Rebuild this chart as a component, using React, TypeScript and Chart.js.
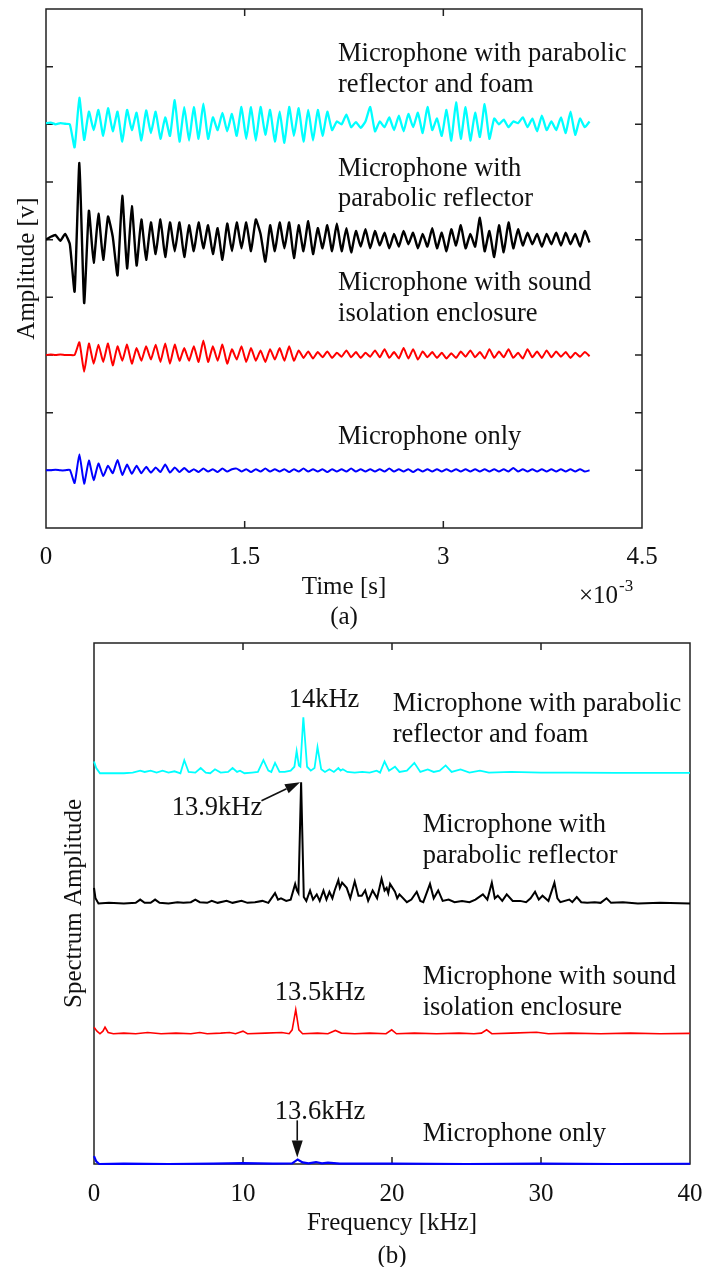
import { useEffect, useRef } from "react";
import { Chart, registerables } from "chart.js";

Chart.register(...registerables);

const FONT = "'Liberation Serif', 'Times New Roman', Times, serif";
const AXIS_COLOR = "#222222";
const TEXT_COLOR = "#111111";

// ---------- (a) time signals: sampled every TIME_STEP_MS, values in axis units ----------
const TIME_STEP_MS = 0.036;
const TIME_TICKS_MS = { min: 0, max: 4.5, step: 1.5 };

const WAVE_FOAM = [
  0.02, 0.03, 0.0, 0.02, 0.01, 0.0, -0.4, 0.46, -0.27, 0.22,
  -0.1, 0.25, -0.2, 0.28, -0.12, 0.22, -0.3, 0.25, -0.1, 0.2,
  -0.28, 0.24, -0.15, 0.22, -0.25, 0.12, -0.2, 0.42, -0.3, 0.3,
  -0.28, 0.3, -0.25, 0.36, -0.25, 0.12, -0.1, 0.2, -0.12, 0.18,
  -0.2, 0.3, -0.25, 0.3, -0.28, 0.3, -0.18, 0.25, -0.3, 0.22,
  -0.32, 0.3, -0.2, 0.28, -0.3, 0.25, -0.28, 0.25, -0.2, 0.22,
  -0.1, 0.05, 0.0, 0.17, -0.05, 0.04, -0.06, 0.05, 0.3, -0.12,
  0.05, -0.05, 0.12, -0.1, 0.15, -0.12, 0.18, -0.05, 0.2, -0.15,
  0.3, -0.1, 0.1, -0.2, 0.25, -0.28, 0.38, -0.25, 0.3, -0.28,
  0.2, -0.22, 0.35, -0.25, 0.1, 0.0, 0.08, -0.05, 0.05, 0.02,
  0.12, -0.05, 0.1, -0.12, 0.15, -0.1, 0.05, -0.1, 0.12, -0.15,
  0.22, -0.18, 0.1, -0.05, 0.05,
];

const WAVE_REFLECTOR = [
  0.0, 0.05, 0.08, -0.02, 0.1, -0.08, -0.9, 1.33, -1.1, 0.5,
  -0.4, 0.45, -0.35, 0.4, 0.05, -0.62, 0.76, -0.5, 0.58, -0.45,
  0.35, -0.35, 0.3, -0.25, 0.35, -0.3, 0.3, -0.2, 0.3, -0.3,
  0.25, -0.2, 0.3, -0.15, 0.25, -0.25, 0.2, -0.35, 0.28, -0.2,
  0.3, -0.15, 0.3, -0.2, 0.35, 0.1, -0.38, 0.25, -0.2, 0.3,
  -0.15, 0.3, -0.32, 0.25, -0.2, 0.32, -0.25, 0.2, -0.15, 0.25,
  -0.2, 0.28, -0.2, 0.2, -0.22, 0.15, -0.12, 0.18, -0.15, 0.15,
  -0.1, 0.12, -0.15, 0.1, -0.12, 0.15, -0.08, 0.12, -0.15, 0.1,
  -0.12, 0.2, -0.15, 0.12, -0.2, 0.18, -0.1, 0.25, -0.15, 0.1,
  -0.12, 0.38, -0.2, 0.15, -0.3, 0.25, -0.22, 0.3, -0.15, 0.18,
  -0.1, 0.12, -0.08, 0.1, -0.12, 0.1, -0.08, 0.12, -0.1, 0.12,
  -0.08, 0.1, -0.12, 0.15, -0.05,
];

const WAVE_ENCLOSURE = [
  0.0, 0.01, 0.0, 0.01, 0.0, 0.0, 0.0, 0.22, -0.29, 0.2,
  -0.15, 0.18, -0.12, 0.2, -0.18, 0.15, -0.1, 0.18, -0.15, 0.12,
  -0.1, 0.15, -0.08, 0.18, -0.12, 0.2, -0.15, 0.18, -0.1, 0.12,
  -0.1, 0.15, -0.12, 0.25, -0.12, 0.15, -0.1, 0.18, -0.15, 0.1,
  -0.08, 0.15, -0.12, 0.12, -0.1, 0.08, -0.12, 0.1, -0.08, 0.12,
  -0.1, 0.15, -0.1, 0.08, -0.05, 0.06, -0.06, 0.05, -0.04, 0.06,
  -0.05, 0.04, -0.03, 0.08, -0.04, 0.05, -0.05, 0.04, -0.03, 0.08,
  -0.04, 0.1, -0.05, 0.05, -0.06, 0.12, -0.06, 0.1, -0.08, 0.06,
  -0.04, 0.05, -0.05, 0.04, -0.06, 0.03, -0.05, 0.06, -0.03, 0.08,
  -0.04, 0.05, -0.06, 0.1, -0.05, 0.06, -0.04, 0.1, -0.05, 0.04,
  -0.06, 0.1, -0.04, 0.06, -0.05, 0.08, -0.04, 0.06, -0.03, 0.05,
  -0.05, 0.04, -0.03, 0.05, -0.02,
];

const WAVE_MIC_ONLY = [
  0.0, 0.0, 0.01, 0.0, 0.0, 0.01, -0.22, 0.28, -0.23, 0.17,
  -0.17, 0.12, -0.1, 0.08, -0.05, 0.18, -0.08, 0.1, -0.06, 0.08,
  -0.05, 0.06, -0.04, 0.05, -0.03, 0.1, -0.04, 0.05, -0.03, 0.04,
  -0.03, 0.02, -0.03, 0.03, -0.02, 0.02, -0.03, 0.03, -0.02, 0.02,
  0.03, -0.02, 0.02, -0.03, 0.02, -0.02, 0.03, -0.02, 0.02, -0.02,
  0.02, -0.03, 0.02, -0.02, 0.03, -0.02, 0.02, -0.02, 0.02, -0.03,
  0.02, -0.02, 0.02, -0.02, 0.03, -0.02, 0.02, -0.02, 0.02, -0.02,
  0.02, -0.02, 0.03, -0.02, 0.02, -0.02, 0.02, -0.03, 0.02, -0.02,
  0.02, -0.02, 0.02, -0.02, 0.02, -0.02, 0.02, -0.02, 0.02, -0.02,
  0.02, -0.02, 0.02, -0.02, 0.02, -0.02, 0.02, -0.02, 0.04, -0.02,
  0.02, -0.02, 0.02, -0.02, 0.02, -0.02, 0.02, -0.02, 0.02, -0.02,
  0.02, -0.02, 0.02, -0.02, 0.0,
];

// ---------- (b) spectra: [frequency kHz, amplitude] ----------
const FREQ_TICKS_KHZ = { min: 0, max: 40, step: 10 };

const SPEC_FOAM: [number, number][] = [
  [0, 0.09], [0.15, 0.04], [0.4, 0.0], [1.0, 0.0], [2.0, 0.0], [2.6, 0.005], [3.1, 0.02], [3.4, 0.01],
  [3.8, 0.02], [4.2, 0.005], [4.6, 0.02], [5.0, 0.005], [5.4, 0.015], [5.8, 0.0], [6.06, 0.1], [6.35, 0.01],
  [6.8, 0.005], [7.16, 0.04], [7.5, 0.005], [7.8, 0.0], [8.12, 0.03], [8.5, 0.005], [9.0, 0.01], [9.3, 0.04],
  [9.6, 0.01], [9.8, 0.02], [10.1, 0.0], [10.6, 0.005], [11.0, 0.01], [11.37, 0.1], [11.7, 0.02], [11.9, 0.01],
  [12.15, 0.08], [12.45, 0.01], [12.8, 0.01], [13.2, 0.02], [13.45, 0.05], [13.6, 0.17], [13.75, 0.06],
  [13.85, 0.05], [14.05, 0.43], [14.3, 0.05], [14.55, 0.02], [14.8, 0.04], [15.0, 0.2], [15.25, 0.03],
  [15.5, 0.01], [15.8, 0.03], [16.1, 0.01], [16.4, 0.04], [16.55, 0.02], [16.7, 0.03], [17.0, 0.01],
  [17.5, 0.005], [18.0, 0.01], [18.5, 0.005], [18.97, 0.02], [19.2, 0.005], [19.5, 0.09], [19.8, 0.02],
  [20.2, 0.05], [20.5, 0.01], [21.0, 0.02], [21.5, 0.08], [21.9, 0.01], [22.4, 0.03], [22.8, 0.01],
  [23.2, 0.02], [23.6, 0.06], [24.0, 0.01], [24.6, 0.03], [25.2, 0.005], [25.9, 0.02], [26.5, 0.005],
  [28, 0.01], [30, 0.005], [32, 0.005], [35, 0.003], [38, 0.003], [40, 0.003],
];

const SPEC_REFLECTOR: [number, number][] = [
  [0, 0.12], [0.1, 0.04], [0.3, 0.0], [1, 0.005], [2, 0.0], [2.8, 0.005], [3.1, 0.03], [3.4, 0.005],
  [3.8, 0.005], [4.1, 0.03], [4.4, 0.005], [5, 0.0], [5.6, 0.01], [6.0, 0.005], [6.5, 0.01], [6.8, 0.03],
  [7.1, 0.01], [7.6, 0.005], [7.9, 0.02], [8.3, 0.005], [8.9, 0.02], [9.3, 0.005], [9.9, 0.02], [10.3, 0.005],
  [10.8, 0.01], [11.3, 0.02], [11.7, 0.005], [12.15, 0.08], [12.35, 0.03], [12.55, 0.04], [12.9, 0.02],
  [13.2, 0.03], [13.5, 0.15], [13.62, 0.1], [13.72, 0.08], [13.9, 0.93], [14.08, 0.05], [14.25, 0.02],
  [14.5, 0.1], [14.7, 0.03], [14.95, 0.07], [15.15, 0.02], [15.4, 0.1], [15.6, 0.03], [15.8, 0.09],
  [16.0, 0.04], [16.15, 0.1], [16.4, 0.18], [16.5, 0.12], [16.65, 0.16], [16.96, 0.12], [17.2, 0.04],
  [17.5, 0.17], [17.75, 0.06], [17.97, 0.06], [18.2, 0.1], [18.4, 0.02], [18.7, 0.1], [19.0, 0.04],
  [19.3, 0.19], [19.5, 0.1], [19.64, 0.12], [19.75, 0.08], [19.87, 0.15], [20.2, 0.09], [20.35, 0.04],
  [20.5, 0.07], [21.0, 0.01], [21.3, 0.03], [21.66, 0.09], [21.9, 0.02], [22.1, 0.01], [22.55, 0.15],
  [22.8, 0.04], [23.1, 0.1], [23.4, 0.02], [23.8, 0.03], [24.2, 0.01], [24.7, 0.02], [25.2, 0.01],
  [25.6, 0.03], [26.1, 0.07], [26.4, 0.03], [26.7, 0.16], [26.9, 0.04], [27.1, 0.06], [27.4, 0.02],
  [27.7, 0.07], [28.1, 0.02], [28.6, 0.02], [29.0, 0.01], [29.3, 0.04], [29.6, 0.09], [29.85, 0.03],
  [30.1, 0.06], [30.5, 0.02], [30.9, 0.16], [31.1, 0.04], [31.3, 0.01], [31.9, 0.03], [32.1, 0.01],
  [32.4, 0.05], [32.7, 0.01], [33.1, 0.005], [33.6, 0.01], [34.0, 0.005], [34.4, 0.04], [34.7, 0.005],
  [35.5, 0.01], [36.5, 0.0], [38, 0.005], [40, 0.0],
];

const SPEC_ENCLOSURE: [number, number][] = [
  [0, 0.05], [0.2, 0.02], [0.4, 0.0], [0.6, 0.02], [0.74, 0.05], [0.95, 0.01], [1.3, 0.0], [2, 0.005],
  [2.8, 0.0], [3.6, 0.01], [4.5, 0.0], [5.5, 0.005], [6.5, 0.0], [7.1, 0.01], [7.6, 0.0], [8.5, 0.005],
  [9.1, 0.01], [9.5, 0.0], [10.0, 0.02], [10.3, 0.0], [11.5, 0.005], [12.6, 0.01], [13.1, 0.0], [13.3, 0.03],
  [13.54, 0.185], [13.75, 0.03], [14, 0.0], [15, 0.005], [15.7, 0.0], [16.2, 0.025], [16.6, 0.005],
  [17.5, 0.0], [18.5, 0.005], [19.6, 0.0], [19.98, 0.03], [20.3, 0.0], [21.5, 0.005], [23, 0.0],
  [24.5, 0.005], [25.5, 0.0], [26.0, 0.005], [26.35, 0.03], [26.7, 0.0], [28, 0.005], [29.7, 0.012],
  [30.5, 0.0], [32, 0.005], [34, 0.0], [36, 0.005], [38, 0.0], [40, 0.003],
];

const SPEC_MIC_ONLY: [number, number][] = [
  [0, 0.06], [0.15, 0.02], [0.35, 0.0], [2, 0.003], [5, 0.0], [8, 0.003], [10, 0.006], [12, 0.003],
  [13.3, 0.005], [13.67, 0.035], [14.0, 0.012], [14.4, 0.005], [14.9, 0.015], [15.3, 0.005], [15.7, 0.01],
  [16.5, 0.003], [20, 0.003], [25, 0.0], [30, 0.003], [35, 0.0], [40, 0.002],
];

// ---------- layout / style (not data) ----------
const WAVE_OFFSET = { foam: 7, reflector: 5, enclosure: 3, only: 1 };
const SPEC_OFFSET = { foam: 3, reflector: 2, enclosure: 1, only: 0 };
const COLORS = { foam: "#00FFFF", reflector: "#000000", enclosure: "#FF0000", only: "#0000FF" };
const TICK_LEN = 7;
const NOTE_FONT = 26.5;
const NOTE_LINE = 30.8;
const CANVAS_W = 696;

type Note = { x: number; y: number; lines: string[]; align: CanvasTextAlign };
type Arrow = { from: [number, number]; to: [number, number]; head: number; half: number };

const NOTES_A: Note[] = [
  { x: 2.205, y: 8.1, lines: ["Microphone with parabolic", "reflector and foam"], align: "left" },
  { x: 2.205, y: 6.11, lines: ["Microphone with", "parabolic reflector"], align: "left" },
  { x: 2.205, y: 4.12, lines: ["Microphone with sound", "isolation enclosure"], align: "left" },
  { x: 2.205, y: 1.455, lines: ["Microphone only"], align: "left" },
];

const NOTES_B: Note[] = [
  { x: 15.44, y: 3.51, lines: ["14kHz"], align: "center" },
  { x: 20.05, y: 3.475, lines: ["Microphone with parabolic", "reflector and foam"], align: "left" },
  { x: 5.21, y: 2.68, lines: ["13.9kHz"], align: "left" },
  { x: 22.06, y: 2.55, lines: ["Microphone with", "parabolic reflector"], align: "left" },
  { x: 15.17, y: 1.26, lines: ["13.5kHz"], align: "center" },
  { x: 22.06, y: 1.383, lines: ["Microphone with sound", "isolation enclosure"], align: "left" },
  { x: 15.17, y: 0.343, lines: ["13.6kHz"], align: "center" },
  { x: 22.06, y: 0.179, lines: ["Microphone only"], align: "left" },
];

const ARROWS_B: Arrow[] = [
  { from: [11.24, 2.789], to: [13.83, 2.93], head: 15, half: 5 },
  { from: [13.64, 0.335], to: [13.64, 0.05], head: 17, half: 5.5 },
];

function framePlugin(showYTicks: boolean) {
  return {
    id: "frame",
    beforeDatasetsDraw(chart: any) {
      const { ctx, chartArea: a, scales } = chart;
      ctx.save();
      ctx.strokeStyle = AXIS_COLOR;
      ctx.lineWidth = 1.5;
      ctx.strokeRect(a.left, a.top, a.right - a.left, a.bottom - a.top);
      ctx.beginPath();
      const xs = scales.x;
      for (const t of xs.ticks) {
        if (t.value <= xs.min || t.value >= xs.max) continue;
        const px = xs.getPixelForValue(t.value);
        ctx.moveTo(px, a.bottom);
        ctx.lineTo(px, a.bottom - TICK_LEN);
        ctx.moveTo(px, a.top);
        ctx.lineTo(px, a.top + TICK_LEN);
      }
      if (showYTicks) {
        const ys = scales.y;
        for (const t of ys.ticks) {
          if (t.value <= ys.min || t.value >= ys.max) continue;
          const py = ys.getPixelForValue(t.value);
          ctx.moveTo(a.left, py);
          ctx.lineTo(a.left + TICK_LEN, py);
          ctx.moveTo(a.right, py);
          ctx.lineTo(a.right - TICK_LEN, py);
        }
      }
      ctx.stroke();
      ctx.restore();
    },
  };
}

type Titles = { x: string; xDy: number; y: string; yX: number; caption: string; captionDy: number; exponent: boolean };

function notesPlugin(notes: Note[], arrows: Arrow[], t: Titles) {
  return {
    id: "notes",
    afterDraw(chart: any) {
      const { ctx, chartArea: a, scales } = chart;
      const xs = scales.x;
      const ys = scales.y;
      ctx.save();
      ctx.fillStyle = TEXT_COLOR;
      ctx.strokeStyle = TEXT_COLOR;
      ctx.font = `${NOTE_FONT}px ${FONT}`;
      ctx.textBaseline = "alphabetic";
      for (const n of notes) {
        ctx.textAlign = n.align;
        const px = xs.getPixelForValue(n.x);
        const py = ys.getPixelForValue(n.y);
        n.lines.forEach((line, i) => ctx.fillText(line, px, py + i * NOTE_LINE));
      }
      for (const ar of arrows) {
        const x0 = xs.getPixelForValue(ar.from[0]);
        const y0 = ys.getPixelForValue(ar.from[1]);
        const x1 = xs.getPixelForValue(ar.to[0]);
        const y1 = ys.getPixelForValue(ar.to[1]);
        const ang = Math.atan2(y1 - y0, x1 - x0);
        const bx = x1 - ar.head * Math.cos(ang);
        const by = y1 - ar.head * Math.sin(ang);
        ctx.lineWidth = 1.6;
        ctx.beginPath();
        ctx.moveTo(x0, y0);
        ctx.lineTo(bx, by);
        ctx.stroke();
        ctx.beginPath();
        ctx.moveTo(x1, y1);
        ctx.lineTo(bx + ar.half * Math.sin(ang), by - ar.half * Math.cos(ang));
        ctx.lineTo(bx - ar.half * Math.sin(ang), by + ar.half * Math.cos(ang));
        ctx.closePath();
        ctx.fill();
      }
      ctx.font = `25px ${FONT}`;
      // y-axis title
      ctx.save();
      ctx.translate(t.yX, (a.top + a.bottom) / 2);
      ctx.rotate(-Math.PI / 2);
      ctx.textAlign = "center";
      ctx.textBaseline = "middle";
      ctx.fillText(t.y, 0, 0);
      ctx.restore();
      // x-axis title and caption
      ctx.textAlign = "center";
      ctx.textBaseline = "middle";
      const cx = (a.left + a.right) / 2;
      ctx.fillText(t.x, cx, a.bottom + t.xDy);
      ctx.fillText(t.caption, cx, a.bottom + t.captionDy);
      if (t.exponent) {
        ctx.textAlign = "left";
        ctx.textBaseline = "alphabetic";
        const ex = a.right - 63;
        const ey = a.bottom + 75;
        ctx.fillText("\u00d710", ex, ey);
        const w = ctx.measureText("\u00d710").width;
        ctx.font = `17px ${FONT}`;
        ctx.fillText("-3", ex + w + 1, ey - 12);
      }
      ctx.restore();
    },
  };
}

const tickFont = { family: FONT, size: 25 };

function xScale(min: number, max: number, step: number, pad: number) {
  return {
    type: "linear" as const,
    min,
    max,
    ticks: { stepSize: step, padding: pad, color: TEXT_COLOR, font: tickFont, maxRotation: 0, autoSkip: false },
    grid: { display: false, drawTicks: false },
    border: { display: false },
    title: { display: false },
    afterFit: (scale: any) => {
      scale.height = pad + 30;
      scale.paddingRight = 0;
    },
  };
}

function waveSet(values: number[], offset: number, color: string, width: number) {
  return {
    data: values.map((v, i) => ({ x: i * TIME_STEP_MS, y: v + offset })),
    borderColor: color,
    borderWidth: width,
    pointRadius: 0,
    fill: false,
    tension: 0.15,
  };
}

function specSet(values: [number, number][], offset: number, color: string, width: number) {
  return {
    data: values.map(([f, v]) => ({ x: f, y: v + offset })),
    borderColor: color,
    borderWidth: width,
    pointRadius: 0,
    fill: false,
    tension: 0,
    clip: false as const,
  };
}

export default function App() {
  const refA = useRef<HTMLCanvasElement>(null);
  const refB = useRef<HTMLCanvasElement>(null);

  useEffect(() => {
    // keep the 8px left/top margins, let the figure use the full page width and height
    document.body.style.marginRight = "0px";
    document.body.style.marginBottom = "0px";

    const chartA = new Chart(refA.current!, {
      type: "line",
      data: {
        datasets: [
          waveSet(WAVE_FOAM, WAVE_OFFSET.foam, COLORS.foam, 2.3),
          waveSet(WAVE_REFLECTOR, WAVE_OFFSET.reflector, COLORS.reflector, 2.4),
          waveSet(WAVE_ENCLOSURE, WAVE_OFFSET.enclosure, COLORS.enclosure, 2),
          waveSet(WAVE_MIC_ONLY, WAVE_OFFSET.only, COLORS.only, 2),
        ],
      },
      options: {
        animation: false,
        responsive: true,
        maintainAspectRatio: false,
        layout: { padding: { left: 38, right: CANVAS_W - 634, top: 1, bottom: 58 } },
        plugins: { legend: { display: false }, tooltip: { enabled: false } },
        scales: {
          x: xScale(TIME_TICKS_MS.min, TIME_TICKS_MS.max, TIME_TICKS_MS.step, 14),
          y: { type: "linear", display: false, min: 0, max: 9, ticks: { stepSize: 1 } },
        },
      },
      plugins: [
        framePlugin(true),
        notesPlugin(NOTES_A, [], {
          x: "Time [s]", xDy: 59, y: "Amplitude [v]", yX: 19, caption: "(a)", captionDy: 89, exponent: true,
        }),
      ],
    } as any);

    const chartB = new Chart(refB.current!, {
      type: "line",
      data: {
        datasets: [
          specSet(SPEC_FOAM, SPEC_OFFSET.foam, COLORS.foam, 1.8),
          specSet(SPEC_REFLECTOR, SPEC_OFFSET.reflector, COLORS.reflector, 2),
          specSet(SPEC_ENCLOSURE, SPEC_OFFSET.enclosure, COLORS.enclosure, 1.6),
          specSet(SPEC_MIC_ONLY, SPEC_OFFSET.only, COLORS.only, 2.2),
        ],
      },
      options: {
        animation: false,
        responsive: true,
        maintainAspectRatio: false,
        layout: { padding: { left: 86, right: CANVAS_W - 682, top: 13, bottom: 58 } },
        plugins: { legend: { display: false }, tooltip: { enabled: false } },
        scales: {
          x: xScale(FREQ_TICKS_KHZ.min, FREQ_TICKS_KHZ.max, FREQ_TICKS_KHZ.step, 15),
          y: { type: "linear", display: false, min: 0, max: 4, ticks: { stepSize: 1 } },
        },
      },
      plugins: [
        framePlugin(false),
        notesPlugin(NOTES_B, ARROWS_B, {
          x: "Frequency [kHz]", xDy: 59, y: "Spectrum Amplitude", yX: 66, caption: "(b)", captionDy: 92, exponent: false,
        }),
      ],
    } as any);

    return () => {
      chartA.destroy();
      chartB.destroy();
    };
  }, []);

  return (
    <div style={{ width: CANVAS_W }}>
      <div style={{ position: "relative", width: CANVAS_W, height: 622 }}>
        <canvas ref={refA} />
      </div>
      <div style={{ position: "relative", width: CANVAS_W, height: 637 }}>
        <canvas ref={refB} />
      </div>
    </div>
  );
}
